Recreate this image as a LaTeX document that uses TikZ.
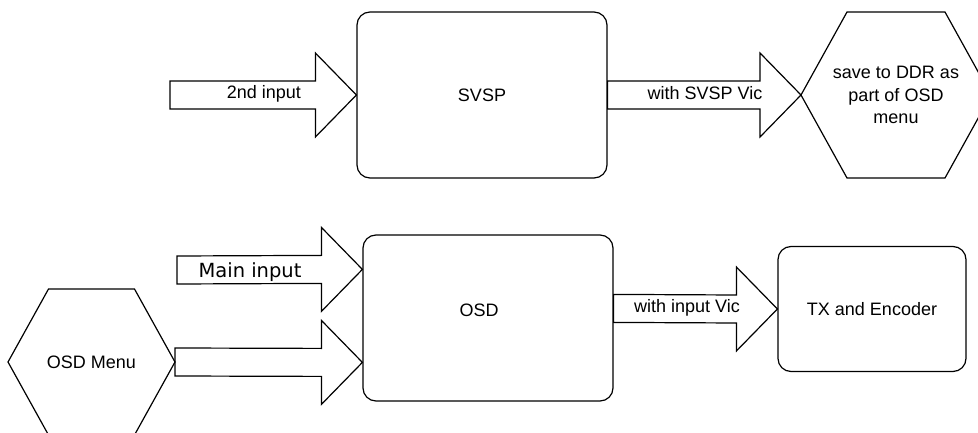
\documentclass[tikz,border=0pt]{standalone}
\usepackage{fontspec}
\setmainfont{Liberation Sans}
\newfontfamily\dejavu{DejaVu Sans}
\usetikzlibrary{calc}
\tikzset{
  lbl/.style={inner sep=0pt, font=\fontsize{18}{22.5}\selectfont, text=black},
  box/.style={lbl, draw, line width=1.2pt, rounded corners=13pt},
  outline/.style={draw, line width=1.2pt, line join=miter},
}
\newcommand\barrow[2]{\draw[outline] ($(#1)+(0,-14)$) -- ($(#2)+(-41,-14)$) -- ($(#2)+(-41,-42)$) -- (#2) -- ($(#2)+(-41,42)$) -- ($(#2)+(-41,14)$) -- ($(#1)+(0,14)$) -- cycle;}
\begin{document}
\begin{tikzpicture}[x=1pt,y=-1pt]
\useasboundingbox (0,0) rectangle (978,433);
\clip (0,0) rectangle (978,433);
% boxes
\node[box, minimum width=250pt, minimum height=166pt] (svsp) at (482,95) {SVSP};
\node[box, minimum width=250pt, minimum height=166pt] (osd) at (488,318) {};
\node[lbl] (osdlbl) at (479,310) {OSD};
\node[box, minimum width=188pt, minimum height=125pt] (tx) at (872,309) {TX and Encoder};
% hexagons
\node[lbl, align=center] (ddr) at (896,95) {save to DDR as\\part of OSD\\menu};
\draw[outline] ($(ddr.center)+(-95,0)$) -- ($(ddr.center)+(-49,-83)$) -- ($(ddr.center)+(49,-83)$) -- ($(ddr.center)+(95,0)$) -- ($(ddr.center)+(49,83)$) -- ($(ddr.center)+(-49,83)$) -- cycle;
\coordinate (ddrW) at ($(ddr.center)+(-95,0)$);
\node[lbl] (menu) at (91.5,362) {OSD Menu};
\draw[outline] ($(menu.center)+(-83.5,0)$) -- ($(menu.center)+(-43,-73)$) -- ($(menu.center)+(43,-73)$) -- ($(menu.center)+(83.5,0)$) -- ($(menu.center)+(43,73)$) -- ($(menu.center)+(-43,73)$) -- cycle;
\coordinate (menuE) at ($(menu.center)+(83.5,0)$);
% arrow endpoints
\coordinate (in2) at (170,95);
\coordinate (mainin) at (177,270);
\coordinate (osdin1) at ($(osd.north west)+(0,35)$);
\coordinate (osdin2) at ($(osd.north west)+(0,128)$);
\coordinate (osdout) at ($(osd.north east)+(0,74)$);
% block arrows
\barrow{in2}{svsp.west}
\barrow{svsp.east}{ddrW}
\barrow{mainin}{osdin1}
\barrow{menuE}{osdin2}
\barrow{osdout}{tx.west}
% arrow labels
\node[lbl] (l2nd) at (264,94) {2nd input};
\node[lbl] (lsvsp) at (705,93) {with SVSP Vic};
\node[lbl, font=\dejavu\fontsize{19.5}{22}\selectfont] (lmain) at (250,272) {Main input};
\node[lbl] (lvic) at (687,308) {with input Vic};
\end{tikzpicture}
\end{document}
